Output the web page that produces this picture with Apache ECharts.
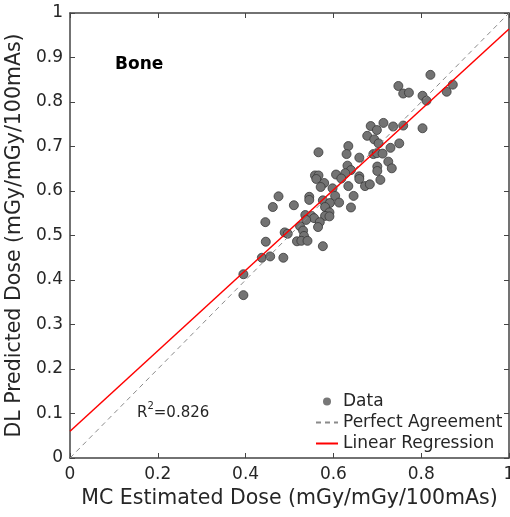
<!DOCTYPE html>
<html>
<head>
<meta charset="utf-8">
<script src="https://cdn.jsdelivr.net/npm/echarts@6/dist/echarts.min.js"></script>
<style>
  html, body { margin: 0; padding: 0; background: #fff; }
  #chart { width: 510px; height: 517px; }
</style>
</head>
<body>
<div id="chart"></div>
<script>
// MC estimated dose vs DL predicted dose (bone)
const mcDose = [
  0.821, 0.748, 0.759, 0.772, 0.803, 0.812, 0.872, 0.858, 0.803, 0.714,
  0.685, 0.699, 0.736, 0.759, 0.677, 0.693, 0.703, 0.750, 0.730, 0.566,
  0.634, 0.630, 0.659, 0.691, 0.699, 0.712, 0.725, 0.733, 0.700, 0.700,
  0.707, 0.632, 0.640, 0.627, 0.606, 0.618, 0.558, 0.566, 0.561, 0.579,
  0.571, 0.659, 0.659, 0.634, 0.672, 0.683, 0.598, 0.604, 0.475, 0.545,
  0.646, 0.545, 0.576, 0.592, 0.613, 0.640, 0.581, 0.462, 0.510, 0.591,
  0.536, 0.550, 0.581, 0.591, 0.556, 0.538, 0.445, 0.569, 0.565, 0.524,
  0.489, 0.496, 0.531, 0.533, 0.517, 0.527, 0.541, 0.446, 0.576, 0.437,
  0.456, 0.486, 0.395, 0.395
];
const dlDose = [
  0.861, 0.836, 0.819, 0.821, 0.814, 0.803, 0.839, 0.823, 0.741, 0.753,
  0.746, 0.737, 0.745, 0.747, 0.724, 0.716, 0.707, 0.707, 0.697, 0.687,
  0.701, 0.683, 0.675, 0.683, 0.685, 0.684, 0.666, 0.651, 0.655, 0.645,
  0.625, 0.657, 0.647, 0.640, 0.637, 0.628, 0.635, 0.635, 0.627, 0.618,
  0.609, 0.633, 0.627, 0.611, 0.611, 0.615, 0.606, 0.589, 0.588, 0.587,
  0.589, 0.580, 0.579, 0.573, 0.574, 0.563, 0.564, 0.564, 0.568, 0.552,
  0.546, 0.544, 0.544, 0.543, 0.539, 0.535, 0.530, 0.530, 0.519, 0.521,
  0.507, 0.504, 0.511, 0.499, 0.487, 0.488, 0.488, 0.486, 0.476, 0.450,
  0.453, 0.450, 0.413, 0.366
];

// reference lines
const identityX = [0, 1];
const identityY = [0, 1];
const fitX = [0, 1];
const fitY = [0.06, 0.964];

const rSquared = '0.826';
const regionName = 'Bone';

const textColor = '#262626';
const axisColor = '#444';
const font = 'DejaVu Sans';

const pairs = (xs, ys) => xs.map((x, i) => [x, ys[i]]);

const chart = echarts.init(document.getElementById('chart'), null, { renderer: 'canvas' });

// shared axis look: box style, ticks pointing inward
function boxAxis(extra) {
  return Object.assign({
    type: 'value',
    min: 0,
    max: 1,
    splitLine: { show: false },
    axisLine: { show: true, onZero: false, lineStyle: { color: axisColor, width: 1.5 } },
    axisTick: { show: true, inside: true, length: 5, lineStyle: { color: axisColor, width: 1 } },
    axisLabel: { show: false },
  }, extra);
}

const option = {
  animation: false,
  textStyle: { fontFamily: font },
  grid: { left: 70, right: 1, top: 13, bottom: 59, containLabel: false, outerBoundsMode: 'none' },
  title: {
    text: regionName,
    left: 110,
    top: 51,
    textStyle: { fontFamily: font, fontSize: 17, fontWeight: 'bold', color: '#000' },
  },
  legend: {
    orient: 'vertical',
    left: 315,
    top: 393,
    itemWidth: 22,
    itemHeight: 8,
    itemGap: 4,
    padding: 0,
    textStyle: { fontFamily: font, fontSize: 17, color: textColor },
    data: [
      { name: 'Data', itemStyle: { borderWidth: 0, color: '#777' } },
      { name: 'Perfect Agreement', itemStyle: { opacity: 0 } },
      { name: 'Linear Regression', itemStyle: { opacity: 0 } },
    ],
  },
  xAxis: [
    boxAxis({
      position: 'bottom',
      interval: 0.2,
      name: 'MC Estimated Dose (mGy/mGy/100mAs)',
      nameLocation: 'middle',
      nameGap: 25,
      nameTextStyle: { fontFamily: font, fontSize: 20.5, color: textColor },
      axisLabel: { show: true, margin: 8, fontSize: 17, color: textColor, fontFamily: font },
    }),
    boxAxis({ position: 'top', interval: 0.2 }),
  ],
  yAxis: [
    boxAxis({
      position: 'left',
      interval: 0.1,
      name: 'DL Predicted Dose (mGy/mGy/100mAs)',
      nameLocation: 'middle',
      nameGap: 38,
      nameTextStyle: { fontFamily: font, fontSize: 20.5, color: textColor },
      axisLabel: { show: true, margin: 7, fontSize: 17, color: textColor, fontFamily: font },
    }),
    boxAxis({ position: 'right', interval: 0.1 }),
  ],
  graphic: [
    {
      type: 'text',
      left: 137,
      top: 401,
      style: {
        text: '{a|R}{s|2}{a|=' + rSquared + '}',
        rich: {
          a: { fontFamily: font, fontSize: 15, fill: textColor, verticalAlign: 'bottom', lineHeight: 20 },
          s: { fontFamily: font, fontSize: 10, fill: textColor, verticalAlign: 'top', lineHeight: 20, padding: [0, 0, 8, 0] },
        },
      },
    },
  ],
  series: [
    {
      name: 'Data',
      type: 'scatter',
      data: pairs(mcDose, dlDose),
      symbolSize: 9,
      itemStyle: { color: '#737373', borderColor: '#383838', borderWidth: 0.8, opacity: 1 },
    },
    {
      name: 'Perfect Agreement',
      type: 'line',
      data: pairs(identityX, identityY),
      symbol: 'none',
      lineStyle: { color: '#8a8a8a', width: 1, type: [5, 4] },
      itemStyle: { color: '#8a8a8a' },
    },
    {
      name: 'Linear Regression',
      type: 'line',
      data: pairs(fitX, fitY),
      symbol: 'none',
      lineStyle: { color: '#ff0000', width: 1.5 },
      itemStyle: { color: '#ff0000' },
    },
  ],
};

chart.setOption(option);
</script>
</body>
</html>
